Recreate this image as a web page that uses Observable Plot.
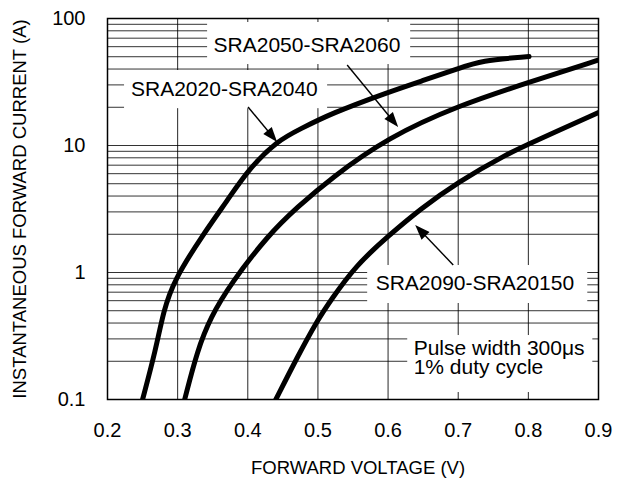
<!DOCTYPE html>
<html>
<head>
<meta charset="utf-8">
<script src="https://cdn.jsdelivr.net/npm/d3@7"></script>
<script src="https://cdn.jsdelivr.net/npm/@observablehq/plot@0.6"></script>
<style>
  html, body { margin: 0; padding: 0; background: #fff; }
  #chart { width: 623px; height: 481px; }
</style>
</head>
<body>
<div id="chart"></div>
<script>
// ---- Data ----
// SRA2020-SRA2040
const aV = [0.25, 0.2685, 0.280, 0.2946, 0.335, 0.3708, 0.4016, 0.442, 0.475, 0.518, 0.600, 0.650, 0.6997, 0.732, 0.801];
const aI = [0.1, 0.243, 0.502, 0.865, 1.95, 3.69, 6.55, 10.9, 13.5, 17.8, 26.3, 32.5, 40.2, 46.7, 50.2];
// SRA2050-SRA2060
const bV = [0.31, 0.328, 0.347, 0.3755, 0.430, 0.4706, 0.518, 0.600, 0.6997, 0.801, 0.901];
const bI = [0.1, 0.243, 0.445, 0.815, 2.0, 3.27, 5.5, 11.6, 20.6, 31.5, 47.3];
// SRA2090-SRA20150
const cV = [0.44, 0.4706, 0.4991, 0.518, 0.5538, 0.6013, 0.6465, 0.6993, 0.7702, 0.801, 0.901];
const cI = [0.1, 0.216, 0.419, 0.602, 1.135, 1.96, 3.17, 5.16, 8.6, 10.3, 18.3];

const xTicks = [0.2, 0.3, 0.4, 0.5, 0.6, 0.7, 0.8, 0.9];
const xTickLabels = ["0.2", "0.3", "0.4", "0.5", "0.6", "0.7", "0.8", "0.9"];
const yTicks = [0.1, 1, 10, 100];
const yTickLabels = ["0.1", "1", "10", "100"];
const yGrid = [0.1,0.2,0.3,0.4,0.5,0.6,0.7,0.8,0.9,1,2,3,4,5,6,7,8,9,10,20,30,40,50,60,70,80,90,100];

const xTitle = "FORWARD VOLTAGE (V)";
const yTitle = "INSTANTANEOUS FORWARD CURRENT (A)";

// Annotation labels (data coordinates)
const labelText = ["SRA2050-SRA2060", "SRA2020-SRA2040", "SRA2090-SRA20150", "Pulse width 300μs\n1% duty cycle"];
const labelV = [0.3512, 0.2335, 0.5823, 0.6365];
const labelI = [60.7, 27.6, 0.812, 0.2094];
const boxV1 = [0.3427, 0.2243, 0.5709, 0.6280];
const boxV2 = [0.6322, 0.5138, 0.8847, 0.8919];
const boxI1 = [93.0, 38.95, 1.135, 0.319];
const boxI2 = [43.4, 19.5, 0.570, 0.1135];

// Arrows (tail -> tip)
const arrowTailV = [0.5424, 0.4011, 0.6936];
const arrowTailI = [42.6, 19.9, 1.135];
const arrowTipV = [0.6151, 0.4425, 0.6394];
const arrowTipI = [13.86, 10.55, 2.345];

// ---- Build tables ----
const series = [
  ...aV.map((v, i) => ({s: "A", v, i: aI[i]})),
  ...bV.map((v, i) => ({s: "B", v, i: bI[i]})),
  ...cV.map((v, i) => ({s: "C", v, i: cI[i]}))
];
const labels = labelText.map((t, k) => ({t, v: labelV[k], i: labelI[k]}));
const boxes = boxV1.map((v, k) => ({x1: v, x2: boxV2[k], y1: boxI1[k], y2: boxI2[k]}));

const font = "'Liberation Sans', Arial, Helvetica, sans-serif";

function arrowMark(index, scales) {
  const g = d3.create("svg:g");
  for (let k = 0; k < arrowTailV.length; k++) {
    const x1 = scales.x(arrowTailV[k]), y1 = scales.y(arrowTailI[k]);
    const x2 = scales.x(arrowTipV[k]), y2 = scales.y(arrowTipI[k]);
    const dx = x2 - x1, dy = y2 - y1, len = Math.hypot(dx, dy);
    const ux = dx / len, uy = dy / len;
    const hl = 15, hw = 5.5;
    const bx = x2 - ux * hl, by = y2 - uy * hl;
    g.append("line").attr("x1", x1).attr("y1", y1).attr("x2", bx + ux * 2).attr("y2", by + uy * 2)
      .attr("stroke", "black").attr("stroke-width", 1.4);
    g.append("path")
      .attr("d", `M${x2},${y2}L${bx - uy * hw},${by + ux * hw}L${bx + uy * hw},${by - ux * hw}Z`)
      .attr("fill", "black");
  }
  return g.node();
}

const chart = Plot.plot({
  width: 623,
  height: 481,
  marginLeft: 107,
  marginRight: 25,
  marginTop: 18,
  marginBottom: 82,
  style: {fontFamily: font, fontSize: "20px", color: "black", background: "white"},
  x: {domain: [0.2, 0.9], ticks: xTicks, tickFormat: d => xTickLabels[xTicks.indexOf(d)], tickSize: 0, tickPadding: 23.5, label: null},
  y: {type: "log", domain: [0.1, 100], ticks: yTicks, tickFormat: d => yTickLabels[yTicks.indexOf(d)], tickSize: 0, tickPadding: 22, label: null},
  marks: [
    Plot.ruleY(yGrid, {stroke: "black", strokeOpacity: 0.8, strokeWidth: 1}),
    Plot.ruleX(xTicks, {stroke: "black", strokeOpacity: 0.85, strokeWidth: 1}),
    Plot.rect(boxes, {x1: "x1", x2: "x2", y1: "y1", y2: "y2", fill: "white"}),
    Plot.frame({stroke: "black", strokeWidth: 1.5}),
    Plot.line(series, {x: "v", y: "i", z: "s", stroke: "black", strokeWidth: 5, curve: "basis", strokeLinecap: "round", clip: true}),
    arrowMark,
    Plot.text(labels, {x: "v", y: "i", text: "t", textAnchor: "start", lineAnchor: "middle", fontSize: 21, lineHeight: 0.9, fill: "black"}),
    Plot.text([xTitle], {frameAnchor: "bottom", dy: 68.5, dx: 5, textAnchor: "middle", lineAnchor: "middle", fontSize: 18.5, fill: "black"}),
    Plot.text([yTitle], {frameAnchor: "left", dx: -87, rotate: -90, textAnchor: "middle", lineAnchor: "middle", fontSize: 18.5, fill: "black"})
  ]
});
document.getElementById("chart").appendChild(chart);
</script>
</body>
</html>
